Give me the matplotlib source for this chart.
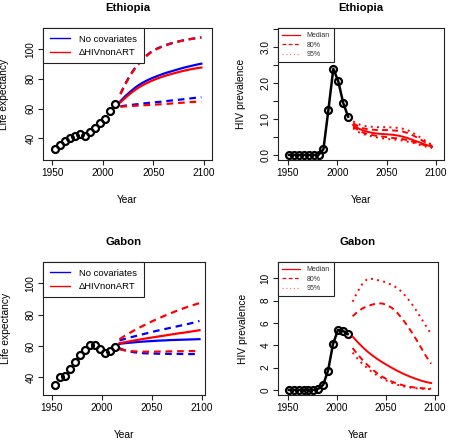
import numpy as np
import matplotlib
matplotlib.use("Agg")
from matplotlib import pyplot as plt
from matplotlib.lines import Line2D

plt.rcParams["font.family"] = ["Liberation Sans", "DejaVu Sans"]

# observed life expectancy (5-year periods, mid-year)
le_years = [1952.5 + 5 * i for i in range(13)]
le_proj_years = [2017.5 + 5 * i for i in range(17)]

eth_le = [32.5, 35.3, 38.4, 40.0, 41.4, 42.9, 41.8, 44.5, 46.8, 50.2, 53.3, 58.5, 63.0]
eth_blue_med = [65.0, 68.5, 71.5, 74.3, 76.6, 78.5, 80.1, 81.5, 82.8, 84.0, 85.0,
                86.0, 87.0, 87.9, 88.7, 89.5, 90.2]
eth_red_med = [64.2, 67.3, 70.2, 72.8, 75.0, 76.8, 78.4, 79.8, 81.1, 82.2, 83.2,
               84.1, 85.0, 85.8, 86.5, 87.1, 87.6]
eth_blue_up = [70.0, 77.0, 83.0, 88.0, 92.0, 95.3, 98.0, 100.0, 101.5, 102.8, 103.9,
               104.8, 105.6, 106.3, 106.9, 107.4, 107.9]
eth_red_up = [69.6, 76.5, 82.6, 87.6, 91.6, 95.0, 97.7, 99.7, 101.3, 102.6, 103.7,
              104.6, 105.5, 106.2, 106.8, 107.3, 107.8]
eth_blue_lo = [61.5, 62.0, 62.4, 62.8, 63.2, 63.6, 64.0, 64.3, 64.6, 65.0, 65.4,
               65.7, 66.1, 66.5, 66.9, 67.3, 67.6]
eth_red_lo = [61.2, 61.5, 61.7, 61.9, 62.1, 62.3, 62.5, 62.7, 62.9, 63.1, 63.4,
              63.6, 63.9, 64.1, 64.4, 64.6, 64.9]

gab_le = [35.2, 40.4, 40.7, 45.0, 50.0, 53.9, 57.4, 60.7, 60.7, 58.0, 55.2, 57.0, 59.6]
gab_blue_med = [61.3, 61.7, 62.0, 62.3, 62.6, 62.8, 63.0, 63.2, 63.4, 63.5, 63.7,
                63.8, 63.9, 64.0, 64.1, 64.2, 64.3]
gab_red_med = [61.7, 62.3, 62.9, 63.5, 64.0, 64.6, 65.1, 65.6, 66.1, 66.6, 67.1,
               67.6, 68.1, 68.5, 69.0, 69.5, 70.0]
gab_blue_up = [63.5, 64.4, 65.3, 66.1, 66.9, 67.7, 68.5, 69.3, 70.0, 70.7, 71.4,
               72.1, 72.8, 73.5, 74.2, 75.0, 75.9]
gab_red_up = [64.3, 66.3, 68.2, 70.0, 71.7, 73.3, 74.9, 76.4, 77.8, 79.2, 80.5,
              81.8, 83.0, 84.2, 85.3, 86.3, 87.3]
gab_blue_lo = [58.5, 57.3, 56.5, 55.9, 55.5, 55.3, 55.2, 55.1, 55.0, 55.0, 54.9,
               54.9, 54.9, 54.8, 54.8, 54.8, 54.8]
gab_red_lo = [57.8, 57.2, 56.8, 56.5, 56.4, 56.3, 56.3, 56.3, 56.4, 56.4, 56.5,
              56.5, 56.6, 56.6, 56.7, 56.7, 56.7]

# HIV prevalence
hiv_years = [1951 + 5 * i for i in range(13)]
hiv_proj_years = [2016 + 5 * i for i in range(17)]

eth_hiv = [0, 0, 0, 0, 0, 0, 0, 0.16, 1.25, 2.39, 2.04, 1.44, 1.06]
eth_hiv_med = [0.83, 0.74, 0.68, 0.64, 0.61, 0.59, 0.58, 0.57, 0.56, 0.54, 0.51,
               0.47, 0.42, 0.37, 0.32, 0.27, 0.23]
eth_hiv_80 = ([0.88, 0.80, 0.74, 0.71, 0.70, 0.69, 0.69, 0.69, 0.68, 0.67, 0.65,
               0.61, 0.55, 0.48, 0.40, 0.32, 0.25],
              [0.79, 0.69, 0.62, 0.58, 0.55, 0.52, 0.51, 0.49, 0.47, 0.46, 0.44,
               0.41, 0.37, 0.33, 0.29, 0.25, 0.21])
eth_hiv_95 = ([0.93, 0.86, 0.81, 0.79, 0.78, 0.77, 0.77, 0.77, 0.76, 0.75, 0.73,
               0.69, 0.62, 0.54, 0.45, 0.36, 0.27],
              [0.74, 0.64, 0.58, 0.54, 0.51, 0.48, 0.46, 0.44, 0.43, 0.42, 0.40,
               0.37, 0.34, 0.30, 0.26, 0.22, 0.19])

gab_hiv = [0, 0, 0, 0, 0, 0, 0.1, 0.45, 1.73, 4.09, 5.37, 5.31, 5.01]
gab_hiv_med = [4.78, 4.3, 3.85, 3.45, 3.1, 2.78, 2.5, 2.23, 1.98, 1.74, 1.52,
               1.32, 1.14, 0.98, 0.83, 0.71, 0.62]
gab_hiv_80 = ([6.6, 7.0, 7.3, 7.5, 7.65, 7.75, 7.75, 7.6, 7.35, 6.95, 6.45,
               5.85, 5.2, 4.5, 3.75, 3.0, 2.35],
              [3.75, 3.2, 2.7, 2.25, 1.85, 1.5, 1.2, 0.95, 0.75, 0.58, 0.45,
               0.34, 0.26, 0.2, 0.16, 0.13, 0.11])
gab_hiv_95 = ([7.9, 8.8, 9.5, 9.95, 9.95, 9.85, 9.75, 9.6, 9.4, 9.15, 8.8,
               8.3, 7.75, 7.1, 6.4, 5.7, 5.0],
              [3.35, 2.8, 2.35, 1.95, 1.6, 1.3, 1.05, 0.82, 0.63, 0.48, 0.36,
               0.27, 0.2, 0.15, 0.11, 0.09, 0.07])

W, H = 450, 440
fig = plt.figure(figsize=(4.5, 4.4), dpi=100)


def make_axes(x0, y0, x1, y1):
    """Axes from pixel box (top-left origin)."""
    ax = fig.add_axes([x0 / W, 1 - y1 / H, (x1 - x0) / W, (y1 - y0) / H])
    for s in ax.spines.values():
        s.set_linewidth(0.8)
        s.set_color("#222222")
    ax.tick_params(direction="out", length=3.5, width=0.8, labelsize=7.2,
                   color="#222222", pad=2)
    ax.set_xticks([1950, 2000, 2050, 2100])
    ax.set_xlabel("Year", fontsize=7.4)
    ax.xaxis.set_label_coords(0.5, -35 / (y1 - y0))
    return ax


def style_yticks(ax):
    for lab in ax.get_yticklabels():
        lab.set_va("center")
        lab.set_rotation(90)


def le_panel(ax, title, obs, bmed, rmed, bup, rup, blo, rlo, ylim, xlim):
    ax.plot(le_proj_years, bmed, color="blue", lw=1.6)
    ax.plot(le_proj_years, bup, color="blue", lw=1.6, dashes=(3, 2.2))
    ax.plot(le_proj_years, blo, color="blue", lw=1.6, dashes=(3, 2.2))
    ax.plot(le_proj_years, rmed, color="red", lw=1.6)
    ax.plot(le_proj_years, rup, color="red", lw=1.6, dashes=(3, 2.2))
    ax.plot(le_proj_years, rlo, color="red", lw=1.6, dashes=(3, 2.2))
    ax.plot(le_years, obs, "o", mfc="none", mec="black", ms=5, mew=1.6)
    ax.set_xlim(xlim)
    ax.set_ylim(ylim)
    ax.set_yticks([40, 60, 80, 100])
    style_yticks(ax)
    ax.set_title(title, fontsize=8.2, fontweight="bold", pad=12)
    ax.set_ylabel("Life expectancy", fontsize=7.4)
    ax.yaxis.set_label_coords(-0.2, 0.5)
    handles = [Line2D([], [], color="blue", lw=1),
               Line2D([], [], color="red", lw=1)]
    leg = ax.legend(handles, ["No covariates", "\u0394HIVnonART"],
                    loc="upper left", bbox_to_anchor=(0, 1), borderaxespad=0,
                    fancybox=False, framealpha=1, edgecolor="#222222",
                    fontsize=6.8, handlelength=2.2, handletextpad=0.9,
                    borderpad=0.7, labelspacing=0.45)
    leg.get_frame().set_linewidth(0.8)


def hiv_panel(ax, title, obs, med, p80, p95, ylim, xlim, yticks, ylabels):
    ax.plot(hiv_years, obs, "-o", color="black", mfc="none", mec="black",
            ms=5, mew=1.6, lw=1.8)
    ax.plot(hiv_proj_years, med, color="red", lw=1.4)
    for s in p80:
        ax.plot(hiv_proj_years, s, color="red", lw=1.4, dashes=(3, 2.2))
    for s in p95:
        ax.plot(hiv_proj_years, s, color="red", lw=1.4, dashes=(1, 2.2))
    ax.set_xlim(xlim)
    ax.set_ylim(ylim)
    ax.set_yticks(yticks)
    ax.set_yticklabels(ylabels)
    style_yticks(ax)
    ax.set_title(title, fontsize=8.2, fontweight="bold", pad=12)
    ax.set_ylabel("HIV prevalence", fontsize=7.4)
    ax.yaxis.set_label_coords(-0.19, 0.5)
    handles = [Line2D([], [], color="red", lw=0.9),
               Line2D([], [], color="red", lw=0.9, dashes=(3, 2)),
               Line2D([], [], color="#ff8080", lw=0.9, dashes=(1, 2))]
    leg = ax.legend(handles, ["Median", "80%", "95%"],
                    loc="upper left", bbox_to_anchor=(0, 1), borderaxespad=0,
                    fancybox=False, framealpha=1, edgecolor="#222222",
                    fontsize=5, handlelength=2.5, handletextpad=1.0,
                    borderpad=0.6, labelspacing=0.35)
    leg.get_frame().set_linewidth(0.8)
    for t in leg.get_texts():
        t.set_color("#333333")


ax1 = make_axes(43, 28, 212, 160)
le_panel(ax1, "Ethiopia", eth_le, eth_blue_med, eth_red_med, eth_blue_up,
         eth_red_up, eth_blue_lo, eth_red_lo, (25.4, 114.2), (1941, 2108))

ax2 = make_axes(278, 28, 444, 160)
hiv_panel(ax2, "Ethiopia", eth_hiv, eth_hiv_med, eth_hiv_80, eth_hiv_95,
          (-0.14, 3.52), (1940, 2108), [0, 0.5, 1, 1.5, 2, 2.5, 3, 3.5],
          ["0.0", "", "1.0", "", "2.0", "", "3.0", ""])

ax3 = make_axes(43, 262, 205, 395)
le_panel(ax3, "Gabon", gab_le, gab_blue_med, gab_red_med, gab_blue_up,
         gab_red_up, gab_blue_lo, gab_red_lo, (28.7, 113.5), (1941, 2103))

ax4 = make_axes(278, 262, 438, 395)
hiv_panel(ax4, "Gabon", gab_hiv, gab_hiv_med, gab_hiv_80, gab_hiv_95,
          (-0.45, 11.46), (1940, 2103), [0, 2, 4, 6, 8, 10],
          ["0", "2", "4", "6", "8", "10"])

fig.savefig("out.png", dpi=100)
